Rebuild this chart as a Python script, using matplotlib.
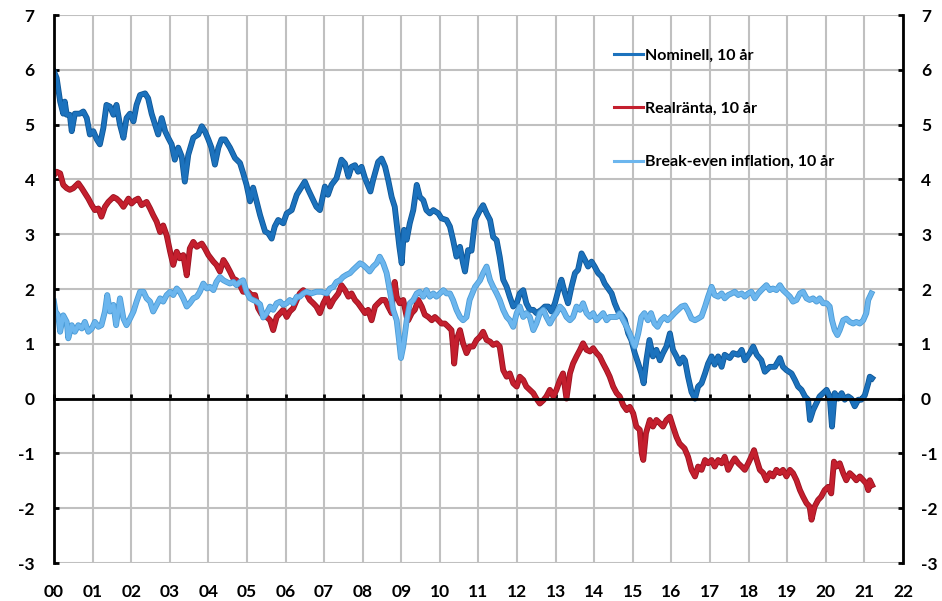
import matplotlib
matplotlib.use('Agg')
import matplotlib.pyplot as plt
import matplotlib.patheffects as pe

plt.rcParams['font.family'] = ['Lato', 'DejaVu Sans']
plt.rcParams['font.weight'] = 'bold'
plt.rcParams['axes.unicode_minus'] = False

years = list(range(0, 23))
year_labels = ['%02d' % y for y in years]
y_ticks = list(range(-3, 8))

# Nominell, 10 år
nom_t = [0.0, 0.07, 0.16, 0.24, 0.28, 0.33, 0.41, 0.46, 0.54, 0.67, 0.76, 0.85, 0.93,
         1.02, 1.11, 1.19, 1.28, 1.36, 1.45, 1.54, 1.62, 1.71, 1.80, 1.88, 1.97,
         2.06, 2.14, 2.23, 2.36, 2.44, 2.53, 2.62, 2.70, 2.79, 2.88, 2.96,
         3.05, 3.13, 3.22, 3.31, 3.39, 3.48, 3.61, 3.74, 3.83, 3.91,
         4.0, 4.08, 4.17, 4.26, 4.34, 4.43, 4.56, 4.69, 4.82, 4.90, 4.99,
         5.08, 5.16, 5.25, 5.34, 5.47, 5.55, 5.64, 5.72, 5.81, 5.94,
         6.03, 6.16, 6.29, 6.42, 6.50, 6.59, 6.72, 6.80, 6.89,
         7.02, 7.10, 7.19, 7.32, 7.45, 7.54, 7.63, 7.71, 7.80, 7.88, 7.97,
         8.06, 8.20, 8.27, 8.40, 8.49, 8.58, 8.66, 8.75, 8.83, 8.90, 8.95,
         9.01, 9.07, 9.14, 9.22, 9.31, 9.40, 9.48, 9.57, 9.65, 9.74, 9.83, 9.96,
         10.04, 10.17, 10.26, 10.34, 10.43, 10.52, 10.60, 10.65, 10.73, 10.82, 10.91,
         11.04, 11.12, 11.21, 11.30, 11.38, 11.47, 11.55, 11.64, 11.73, 11.81, 11.90, 11.99,
         12.07, 12.16, 12.24, 12.33, 12.42, 12.50, 12.63, 12.72, 12.81, 12.89, 12.98,
         13.07, 13.15, 13.24, 13.32, 13.41, 13.50, 13.58, 13.67, 13.76, 13.84, 13.93,
         14.01, 14.10, 14.19, 14.27, 14.36, 14.45, 14.53, 14.62, 14.71, 14.79, 14.88, 14.96,
         15.05, 15.14, 15.22, 15.28, 15.35, 15.43, 15.52, 15.61, 15.70, 15.78, 15.87, 15.96,
         16.04, 16.13, 16.21, 16.30, 16.35, 16.43, 16.52, 16.61, 16.69, 16.78, 16.87, 16.95,
         17.04, 17.12, 17.21, 17.30, 17.38, 17.51, 17.60, 17.73, 17.82, 17.90,
         18.03, 18.12, 18.21, 18.33, 18.42, 18.55, 18.68, 18.81, 18.89, 18.98,
         19.11, 19.20, 19.28, 19.37, 19.46, 19.54, 19.59, 19.67, 19.76, 19.84, 19.93,
         20.02, 20.10, 20.16, 20.23, 20.32, 20.41, 20.49, 20.58, 20.66, 20.75, 20.84, 20.92,
         21.01, 21.10, 21.14, 21.20]
nom_v = [5.97, 5.85, 5.42, 5.2, 5.42, 5.18, 5.18, 4.88, 5.2, 5.2, 5.24, 5.12, 4.82,
         4.88, 4.73, 4.64, 4.94, 5.36, 5.33, 5.18, 5.36, 5.0, 4.76, 5.12, 5.2,
         5.06, 5.36, 5.54, 5.57, 5.48, 5.2, 5.0, 4.82, 5.12, 4.88, 4.76,
         4.64, 4.36, 4.58, 4.42, 3.96, 4.45, 4.76, 4.82, 4.97, 4.88,
         4.73, 4.58, 4.27, 4.58, 4.73, 4.73, 4.58, 4.39, 4.3, 4.12, 3.9,
         3.6, 3.85, 3.6, 3.35, 3.05, 3.02, 2.92, 3.14, 3.26, 3.2,
         3.38, 3.44, 3.72, 3.87, 3.96, 3.81, 3.62, 3.5, 3.44,
         3.87, 3.72, 3.9, 4.02, 4.36, 4.29, 4.05, 4.23, 4.26, 4.14, 4.23,
         4.02, 3.78, 3.99, 4.32, 4.38, 4.23, 3.99, 3.68, 3.5, 3.08, 2.77,
         2.47, 3.08, 2.9, 3.2, 3.44, 3.9, 3.68, 3.62, 3.44, 3.38, 3.44, 3.38,
         3.29, 3.26, 3.14, 2.9, 2.59, 2.77, 2.47, 2.32, 2.71, 2.7, 3.26,
         3.44, 3.53, 3.38, 3.26, 2.95, 2.89, 2.59, 2.17, 2.04, 1.86, 1.68, 1.74,
         1.92, 1.98, 1.74, 1.62, 1.62, 1.56, 1.62, 1.68, 1.68, 1.59, 1.74,
         1.98, 2.17, 1.92, 1.74, 2.04, 2.29, 2.35, 2.65, 2.53, 2.41, 2.5,
         2.41, 2.29, 2.23, 2.1, 2.01, 1.92, 1.74, 1.59, 1.53, 1.44, 1.19, 1.07,
         0.83, 0.64, 0.46, 0.28, 0.7, 1.07, 0.77, 0.89, 0.7, 0.83, 0.95, 1.19,
         0.89, 0.77, 0.64, 0.75, 0.7, 0.4, 0.12, 0.0, 0.22, 0.28, 0.46, 0.64,
         0.77, 0.62, 0.77, 0.58, 0.8, 0.74, 0.83, 0.8, 0.89, 0.7,
         0.83, 0.95, 0.8, 0.7, 0.49, 0.58, 0.58, 0.74, 0.58, 0.52,
         0.46, 0.34, 0.22, 0.16, 0.04, -0.02, -0.39, -0.21, -0.08, 0.04, 0.1,
         0.16, 0.04, -0.51, 0.1, 0.0, 0.1, -0.02, 0.04, 0.0, -0.14, -0.02, -0.02,
         0.06, 0.28, 0.4, 0.37]

# Realränta, 10 år
real_t = [0.0, 0.07, 0.16, 0.24, 0.33, 0.41, 0.50, 0.63, 0.72, 0.80, 0.89, 0.98,
          1.06, 1.15, 1.23, 1.32, 1.41, 1.54, 1.62, 1.71, 1.80, 1.93,
          2.01, 2.10, 2.18, 2.27, 2.40, 2.49, 2.57, 2.66, 2.75, 2.83, 2.92,
          3.01, 3.09, 3.18, 3.26, 3.35, 3.44, 3.52, 3.61, 3.70, 3.83, 3.91,
          4.0, 4.13, 4.21, 4.30, 4.39, 4.47, 4.56, 4.65, 4.73, 4.82, 4.90,
          5.03, 5.12, 5.21, 5.29, 5.38, 5.47, 5.51, 5.60, 5.68, 5.77, 5.86, 5.94,
          6.03, 6.11, 6.20, 6.29, 6.37, 6.46, 6.54, 6.63, 6.72, 6.80, 6.89, 6.98,
          7.07, 7.15, 7.24, 7.37, 7.45, 7.54, 7.63, 7.71, 7.80, 7.88, 7.97,
          8.06, 8.14, 8.23, 8.32, 8.40, 8.49, 8.58, 8.66, 8.75, 8.79, 8.83, 8.88, 8.96,
          9.05, 9.14, 9.18, 9.27, 9.35, 9.44, 9.53, 9.61, 9.70, 9.79, 9.87, 9.96,
          10.04, 10.13, 10.22, 10.30, 10.34, 10.37, 10.43, 10.52, 10.60, 10.69, 10.77,
          10.86, 10.95, 11.04, 11.12, 11.21, 11.30, 11.38, 11.47, 11.55, 11.64, 11.73,
          11.81, 11.90, 11.99, 12.07, 12.16, 12.24, 12.33, 12.42, 12.50, 12.59, 12.68,
          12.76, 12.85, 12.94, 13.02, 13.11, 13.19, 13.28, 13.37, 13.45, 13.54, 13.63,
          13.71, 13.80, 13.89, 13.97, 14.06, 14.14, 14.23, 14.32, 14.40, 14.49, 14.58,
          14.66, 14.75, 14.84, 14.92, 15.01, 15.09, 15.18, 15.23, 15.27, 15.34, 15.44,
          15.52, 15.61, 15.70, 15.78, 15.87, 15.96, 16.04, 16.13, 16.21, 16.34, 16.43,
          16.52, 16.61, 16.69, 16.78, 16.87, 16.95, 17.04, 17.12, 17.21, 17.30, 17.38,
          17.47, 17.56, 17.64, 17.73, 17.82, 17.90, 17.99, 18.07, 18.14, 18.21, 18.29,
          18.38, 18.46, 18.55, 18.63, 18.72, 18.81, 18.89, 18.98, 19.07, 19.15, 19.24,
          19.33, 19.41, 19.50, 19.58, 19.63, 19.71, 19.80, 19.88, 19.97, 20.06, 20.14,
          20.21, 20.27, 20.36, 20.45, 20.53, 20.62, 20.71, 20.79, 20.88, 20.97, 21.05,
          21.10, 21.14, 21.20]
real_v = [4.08, 4.14, 4.11, 3.9, 3.84, 3.81, 3.84, 3.93, 3.84, 3.75, 3.65, 3.53,
          3.44, 3.47, 3.32, 3.5, 3.59, 3.68, 3.65, 3.59, 3.5, 3.65,
          3.56, 3.62, 3.65, 3.53, 3.59, 3.47, 3.35, 3.23, 3.04, 3.16, 2.98,
          2.68, 2.44, 2.68, 2.56, 2.62, 2.25, 2.74, 2.86, 2.77, 2.83, 2.74,
          2.62, 2.5, 2.44, 2.32, 2.53, 2.44, 2.32, 2.19, 2.16, 2.07, 1.95,
          1.95, 1.89, 1.89, 1.65, 1.54, 1.5, 1.49, 1.43, 1.25, 1.49, 1.56, 1.62,
          1.49, 1.59, 1.65, 1.8, 1.92, 1.98, 1.92, 1.8, 1.74, 1.68, 1.56, 1.74,
          1.86, 1.68, 1.8, 1.92, 2.07, 1.98, 1.86, 1.92, 1.8, 1.74, 1.65,
          1.56, 1.62, 1.43, 1.68, 1.74, 1.8, 1.8, 1.68, 1.56, 2.04, 2.13, 1.86, 1.74,
          1.8, 1.49, 1.43, 1.56, 1.62, 1.8, 1.68, 1.53, 1.49, 1.43, 1.49, 1.43,
          1.37, 1.37, 1.31, 1.25, 0.95, 0.64, 1.07, 1.25, 1.01, 0.83, 0.95,
          0.95, 1.07, 1.13, 1.22, 1.07, 1.04, 0.98, 1.01, 0.95, 0.52, 0.4,
          0.46, 0.28, 0.22, 0.4, 0.34, 0.22, 0.16, 0.1, 0.0, -0.09, -0.03,
          0.04, 0.16, 0.04, 0.16, 0.34, 0.46, 0.0, 0.46, 0.64, 0.77, 0.89,
          1.01, 0.89, 0.86, 0.92, 0.83, 0.77, 0.64, 0.52, 0.4, 0.22, 0.1,
          0.04, -0.12, -0.21, -0.15, -0.27, -0.51, -0.57, -1.0, -1.12, -0.63, -0.39,
          -0.51, -0.39, -0.45, -0.51, -0.39, -0.33, -0.51, -0.7, -0.82, -0.91, -1.06,
          -1.3, -1.42, -1.24, -1.3, -1.12, -1.18, -1.12, -1.24, -1.12, -1.18, -1.06,
          -1.3, -1.18, -1.09, -1.18, -1.24, -1.3, -1.18, -1.06, -0.94, -1.12, -1.3,
          -1.36, -1.49, -1.36, -1.42, -1.3, -1.36, -1.3, -1.42, -1.3, -1.36, -1.49,
          -1.67, -1.79, -1.91, -1.97, -2.21, -1.97, -1.85, -1.79, -1.67, -1.61, -1.73,
          -1.15, -1.24, -1.18, -1.36, -1.49, -1.36, -1.42, -1.49, -1.42, -1.49, -1.55,
          -1.67, -1.49, -1.58]

# Break-even inflation, 10 år
be_t = [0.0, 0.04, 0.11, 0.16, 0.24, 0.33, 0.37, 0.46, 0.54, 0.63, 0.72, 0.80, 0.89, 0.98,
        1.06, 1.15, 1.23, 1.32, 1.38, 1.45, 1.54, 1.61, 1.71, 1.80, 1.88, 1.97,
        2.06, 2.14, 2.23, 2.32, 2.40, 2.49, 2.57, 2.66, 2.75, 2.83, 2.92,
        3.01, 3.09, 3.18, 3.26, 3.35, 3.44, 3.52, 3.61, 3.70, 3.78, 3.87, 3.96,
        4.04, 4.13, 4.21, 4.30, 4.39, 4.47, 4.56, 4.65, 4.73, 4.82, 4.90, 4.99,
        5.08, 5.16, 5.25, 5.34, 5.42, 5.51, 5.60, 5.68, 5.77, 5.86, 5.94,
        6.03, 6.11, 6.20, 6.29, 6.37, 6.46, 6.54, 6.67, 6.80, 6.93,
        7.07, 7.15, 7.24, 7.32, 7.41, 7.49, 7.58, 7.67, 7.75, 7.84, 7.93,
        8.01, 8.10, 8.18, 8.27, 8.36, 8.44, 8.53, 8.62, 8.70, 8.79, 8.88, 8.94, 8.99,
        9.05, 9.14, 9.22, 9.31, 9.40, 9.48, 9.57, 9.65, 9.74, 9.83, 9.91,
        10.0, 10.09, 10.17, 10.26, 10.34, 10.43, 10.52, 10.60, 10.69, 10.77, 10.91,
        11.04, 11.12, 11.21, 11.30, 11.38, 11.47, 11.55, 11.64, 11.73, 11.81, 11.90, 11.99,
        12.07, 12.16, 12.24, 12.33, 12.42, 12.50, 12.59, 12.68, 12.76, 12.85, 12.94,
        13.02, 13.11, 13.19, 13.28, 13.37, 13.45, 13.54, 13.63, 13.71, 13.80, 13.89, 13.97,
        14.06, 14.14, 14.23, 14.32, 14.40, 14.49, 14.58, 14.66, 14.75, 14.84, 14.92,
        15.01, 15.05, 15.14, 15.22, 15.30, 15.39, 15.47, 15.56, 15.64, 15.73, 15.82, 15.90,
        15.99, 16.08, 16.17, 16.26, 16.35, 16.43, 16.52, 16.61, 16.69, 16.78, 16.87, 16.95,
        17.04, 17.12, 17.21, 17.30, 17.38, 17.47, 17.56, 17.64, 17.73, 17.82, 17.90, 17.99,
        18.07, 18.16, 18.25, 18.33, 18.46, 18.55, 18.63, 18.72, 18.81, 18.89, 18.98,
        19.07, 19.15, 19.24, 19.33, 19.41, 19.50, 19.58, 19.67, 19.76, 19.84, 19.93,
        20.02, 20.10, 20.16, 20.23, 20.30, 20.36, 20.45, 20.53, 20.62, 20.71, 20.79, 20.88,
        20.97, 21.05, 21.10, 21.18]
be_v = [1.77, 1.59, 1.52, 1.22, 1.52, 1.4, 1.1, 1.34, 1.22, 1.34, 1.28, 1.4, 1.22, 1.28,
        1.4, 1.31, 1.34, 1.59, 1.89, 1.59, 1.71, 1.34, 1.83, 1.46, 1.34, 1.46,
        1.59, 1.77, 1.95, 1.95, 1.83, 1.77, 1.59, 1.71, 1.83, 1.77, 1.89,
        1.95, 1.89, 2.01, 1.95, 1.83, 1.68, 1.74, 1.83, 1.86, 1.95, 2.1, 2.01,
        2.04, 1.98, 2.13, 2.22, 2.16, 2.13, 2.1, 2.13, 2.07, 2.13, 2.16, 1.95,
        1.83, 1.8, 1.77, 1.72, 1.48, 1.56, 1.68, 1.62, 1.74, 1.77, 1.71,
        1.74, 1.8, 1.74, 1.86, 1.86, 1.92, 1.95, 1.92, 1.95, 1.95,
        1.92, 2.01, 2.04, 2.13, 2.16, 2.22, 2.26, 2.29, 2.35, 2.41, 2.47,
        2.44, 2.38, 2.32, 2.41, 2.47, 2.59, 2.47, 2.29, 1.98, 1.62, 1.43, 1.07, 0.74,
        0.95, 1.43, 1.74, 1.8, 1.92, 1.95, 1.86, 1.98, 1.86, 1.92, 1.86,
        1.92, 1.98, 1.92, 1.92, 1.8, 1.62, 1.49, 1.43, 1.49, 1.8, 2.04,
        2.16, 2.29, 2.41, 2.16, 2.04, 1.92, 1.8, 1.62, 1.49, 1.43, 1.31, 1.56,
        1.68, 1.49, 1.56, 1.49, 1.25, 1.37, 1.56, 1.62, 1.49, 1.37, 1.49,
        1.56, 1.68, 1.62, 1.49, 1.43, 1.49, 1.68, 1.62, 1.74, 1.56, 1.49, 1.56,
        1.43, 1.49, 1.56, 1.43, 1.49, 1.49, 1.49, 1.56, 1.43, 1.31, 1.19,
        1.01, 0.95, 1.19, 1.49, 1.56, 1.43, 1.56, 1.37, 1.31, 1.43, 1.49, 1.43,
        1.49, 1.56, 1.62, 1.68, 1.7, 1.6, 1.46, 1.43, 1.46, 1.5, 1.68, 1.86,
        2.04, 1.89, 1.86, 1.92, 1.83, 1.89, 1.92, 1.95, 1.89, 1.92, 1.86, 1.92,
        1.95, 1.83, 1.92, 1.98, 2.07, 1.98, 2.01, 1.98, 2.07, 1.98, 1.92,
        1.86, 1.77, 1.8, 1.92, 1.95, 1.83, 1.8, 1.83, 1.77, 1.83, 1.74,
        1.74, 1.68, 1.43, 1.25, 1.16, 1.25, 1.43, 1.46, 1.4, 1.37, 1.4, 1.37,
        1.43, 1.56, 1.8, 1.92]

fig = plt.figure(figsize=(9.42, 6.01), dpi=100)
ax = fig.add_axes([0.0573, 0.0632, 0.9013, 0.9118])
ax.set_xlim(0, 22)
ax.set_ylim(-3, 7)
ax.set_xticks(years)
ax.set_yticks(y_ticks)
ax.grid(True, color='#c0c0c0', lw=1.5)
ax.set_axisbelow(True)

series = [
    (nom_t, nom_v, '#1c72bd', '#0f5797', 'Nominell, 10 år'),
    (real_t, real_v, '#c41f2e', '#9a1220', 'Realränta, 10 år'),
    (be_t, be_v, '#6cb6ee', '#4b9bd6', 'Break-even inflation, 10 år'),
]
for t, v, c, edge, lab in series:
    ax.plot(t, v, color=c, lw=3.0, label=lab, solid_joinstyle='round',
            path_effects=[pe.Stroke(linewidth=4.2, foreground=edge), pe.Normal()])

ax.spines['top'].set_visible(False)
ax.spines['right'].set_visible(False)
ax.spines['bottom'].set_position(('data', 0))
ax.spines['bottom'].set_linewidth(2)
ax.spines['left'].set_linewidth(2)
ax.tick_params(axis='x', direction='in', length=3.5, width=2, labelbottom=False)
ax.tick_params(axis='y', direction='in', length=3.5, width=2, pad=14, labelsize=12.5)

ax2 = ax.twinx()
ax2.set_ylim(-3, 7)
ax2.set_yticks(y_ticks)
for s in ['top', 'bottom', 'left']:
    ax2.spines[s].set_visible(False)
ax2.spines['right'].set_linewidth(2)
ax2.tick_params(axis='y', direction='in', length=3.5, width=2, pad=13, labelsize=12.5)

sec = ax.secondary_xaxis('bottom')
sec.set_xticks(years, labels=year_labels)
sec.tick_params(length=0, pad=15, labelsize=12.5)
sec.spines['bottom'].set_visible(False)

leg = ax.legend(loc='upper left', bbox_to_anchor=(0.66, 0.939), frameon=False,
                handlelength=1.8, handletextpad=0.15, labelspacing=2.45, fontsize=11.5,
                borderaxespad=0, borderpad=0)
for h in leg.get_lines():
    h.set_linewidth(2.2)
    h.set_path_effects([])

fig.savefig('out.png', dpi=100)
